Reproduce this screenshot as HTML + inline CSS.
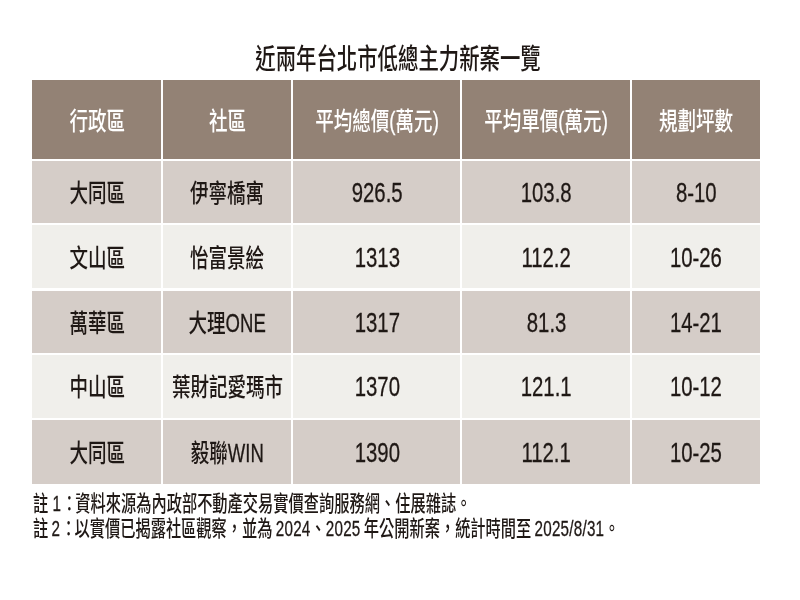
<!DOCTYPE html><html lang="zh-Hant"><head><meta charset="utf-8"><title>近兩年台北市低總主力新案一覽</title><style>
html,body{margin:0;padding:0;background:#fff;}
body{width:800px;height:600px;position:relative;overflow:hidden;font-family:"Liberation Sans","Noto Sans CJK TC",sans-serif;color:#1f1815;}
i{font-style:normal;-webkit-text-stroke:.3px currentColor;}
.c{position:absolute;display:flex;align-items:center;justify-content:center;}
.c>span{display:inline-block;white-space:nowrap;transform:scaleX(.727);transform-origin:center center;font-size:25.5px;line-height:30px;font-weight:500;position:relative;top:1px;left:.5px;}
.c.h>span{top:1px;}
.c>span.n{font-size:27.3px;transform:scaleX(.745);-webkit-text-stroke:.3px currentColor;}
.h{background:#938275;color:#fff;}
.d{background:#d5cdc8;}
.l{background:#f0efeb;}
.title{position:absolute;left:0;top:40.4px;width:796px;text-align:center;}
.title span{display:inline-block;white-space:nowrap;transform:scaleX(.728);font-size:28px;line-height:40px;font-weight:500;}
.note b{font-weight:inherit;position:relative;left:1.2px;margin-right:-1.3px;}
.n2{word-spacing:-1.4px;}
.n2 i{letter-spacing:.3px;}
.note{position:absolute;left:32.7px;white-space:nowrap;font-weight:500;transform:scaleX(.7153);transform-origin:left center;font-size:21.3px;line-height:26px;}
</style></head><body>
<div class="title"><span>近兩年台北市低總主力新案一覽</span></div>
<div class="c h" style="left:32px;top:80.4px;width:129px;height:78.35px"><span>行政區</span></div>
<div class="c h" style="left:163px;top:80.4px;width:128px;height:78.35px"><span>社區</span></div>
<div class="c h" style="left:293px;top:80.4px;width:167px;height:78.35px"><span>平均總價<i>(</i>萬元<i>)</i></span></div>
<div class="c h" style="left:462px;top:80.4px;width:167.8px;height:78.35px"><span>平均單價<i>(</i>萬元<i>)</i></span></div>
<div class="c h" style="left:631.5px;top:80.4px;width:128.5px;height:78.35px"><span>規劃坪數</span></div>
<div class="c d" style="left:32px;top:160.7px;width:129px;height:62.6px"><span>大同區</span></div>
<div class="c d" style="left:163px;top:160.7px;width:128px;height:62.6px"><span>伊寧橋寓</span></div>
<div class="c d" style="left:293px;top:160.7px;width:167px;height:62.6px"><span class="n">926.5</span></div>
<div class="c d" style="left:462px;top:160.7px;width:167.8px;height:62.6px"><span class="n">103.8</span></div>
<div class="c d" style="left:631.5px;top:160.7px;width:128.5px;height:62.6px"><span class="n">8-10</span></div>
<div class="c l" style="left:32px;top:225px;width:129px;height:63.4px"><span>文山區</span></div>
<div class="c l" style="left:163px;top:225px;width:128px;height:63.4px"><span>怡富景絵</span></div>
<div class="c l" style="left:293px;top:225px;width:167px;height:63.4px"><span class="n">1313</span></div>
<div class="c l" style="left:462px;top:225px;width:167.8px;height:63.4px"><span class="n">112.2</span></div>
<div class="c l" style="left:631.5px;top:225px;width:128.5px;height:63.4px"><span class="n">10-26</span></div>
<div class="c d" style="left:32px;top:290.6px;width:129px;height:62px"><span>萬華區</span></div>
<div class="c d" style="left:163px;top:290.6px;width:128px;height:62px"><span>大理<i>ONE</i></span></div>
<div class="c d" style="left:293px;top:290.6px;width:167px;height:62px"><span class="n">1317</span></div>
<div class="c d" style="left:462px;top:290.6px;width:167.8px;height:62px"><span class="n">81.3</span></div>
<div class="c d" style="left:631.5px;top:290.6px;width:128.5px;height:62px"><span class="n">14-21</span></div>
<div class="c l" style="left:32px;top:355px;width:129px;height:62.8px"><span>中山區</span></div>
<div class="c l" style="left:163px;top:355px;width:128px;height:62.8px"><span>葉財記愛瑪市</span></div>
<div class="c l" style="left:293px;top:355px;width:167px;height:62.8px"><span class="n">1370</span></div>
<div class="c l" style="left:462px;top:355px;width:167.8px;height:62.8px"><span class="n">121.1</span></div>
<div class="c l" style="left:631.5px;top:355px;width:128.5px;height:62.8px"><span class="n">10-12</span></div>
<div class="c d" style="left:32px;top:420.2px;width:129px;height:63.55px"><span>大同區</span></div>
<div class="c d" style="left:163px;top:420.2px;width:128px;height:63.55px"><span>毅聯<i>WIN</i></span></div>
<div class="c d" style="left:293px;top:420.2px;width:167px;height:63.55px"><span class="n">1390</span></div>
<div class="c d" style="left:462px;top:420.2px;width:167.8px;height:63.55px"><span class="n">112.1</span></div>
<div class="c d" style="left:631.5px;top:420.2px;width:128.5px;height:63.55px"><span class="n">10-25</span></div>
<div class="note" style="top:490.5px">註 <i>1</i><b>：</b>資料來源為內政部不動產交易實價查詢服務網、住展雜誌。</div>
<div class="note n2" style="top:516px">註 <i>2</i><b>：</b>以實價已揭露社區觀察，並為 <i>2024</i>、<i>2025</i> 年公開新案，統計時間至 <i>2025/8/31</i>。</div>
</body></html>
